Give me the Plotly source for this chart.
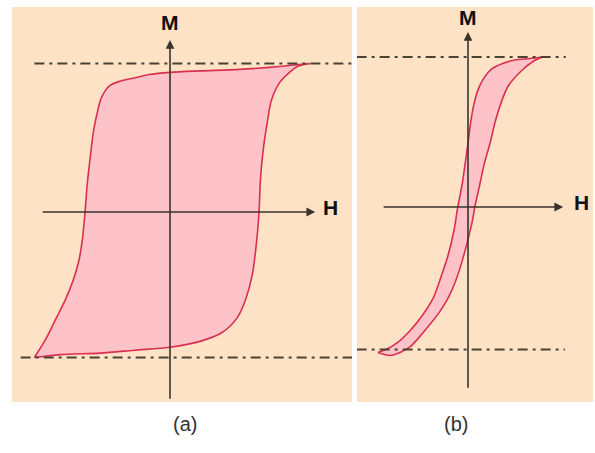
import plotly.graph_objects as go

# Hysteresis loops, M in units of saturation magnetisation, H in units of the loop's own field scale
# (a) hard magnet: wide loop
a_up_H = [-0.99, -0.80, -0.51, -0.26, 0.00, 0.22, 0.38, 0.49, 0.55, 0.60, 0.63, 0.65, 0.66, 0.68, 0.71, 0.74, 0.80, 0.86, 0.93, 1.02]
a_up_M = [-0.99, -0.97, -0.96, -0.94, -0.92, -0.88, -0.82, -0.72, -0.60, -0.43, -0.22, 0.00, 0.22, 0.42, 0.61, 0.76, 0.88, 0.94, 0.99, 1.01]
a_dn_H = [1.02, 0.80, 0.51, 0.22, 0.00, -0.15, -0.27, -0.365, -0.44, -0.50, -0.53, -0.56, -0.58, -0.605, -0.62,
          -0.64, -0.665, -0.705, -0.765, -0.835, -0.91, -0.99]
a_dn_M = [1.01, 0.99, 0.97, 0.96, 0.95, 0.935, 0.91, 0.89, 0.86, 0.78, 0.68, 0.54, 0.39, 0.18, 0.00,
          -0.19, -0.33, -0.46, -0.60, -0.73, -0.87, -0.99]

# (b) soft magnet: narrow loop
b_up_H = [-1.06, -0.92, -0.80, -0.68, -0.565, -0.45, -0.33, -0.235, -0.15, -0.07, 0.00, 0.05, 0.08, 0.13, 0.19,
          0.26, 0.32, 0.39, 0.47, 0.635, 0.765, 0.88]
b_up_M = [-0.99, -1.01, -0.99, -0.95, -0.88, -0.80, -0.71, -0.62, -0.51, -0.37, -0.22, -0.10, 0.00, 0.13, 0.29,
          0.435, 0.58, 0.71, 0.82, 0.93, 0.99, 1.02]
b_dn_H = [0.88, 0.73, 0.55, 0.40, 0.28, 0.19, 0.12, 0.07, 0.035, 0.00, -0.035, -0.07, -0.12, -0.165, -0.235,
          -0.32, -0.41, -0.54, -0.68, -0.835, -0.965, -1.06]
b_dn_M = [1.02, 1.01, 1.00, 0.975, 0.94, 0.88, 0.80, 0.70, 0.59, 0.435, 0.29, 0.15, 0.00, -0.16, -0.33,
          -0.48, -0.62, -0.74, -0.84, -0.925, -0.97, -0.99]

# saturation reference levels and their horizontal extent
a_sat_M = [1.01, -0.99]
a_sat_H = [[-0.99, 1.33], [-1.09, 1.33]]
b_sat_M = [1.02, -0.97]
b_sat_H = [[-1.31, 1.15], [-1.31, 1.14]]

# axis arrows: (H from, H to), (M from, M to), label positions
a_axis_H = [-0.94, 1.06]
a_axis_M = [-1.28, 1.17]
b_axis_H = [-1.01, 1.12]
b_axis_M = [-1.24, 1.19]
a_lbl = {"H": (1.17, 0.03), "M": (0.0, 1.29)}
b_lbl = {"H": (1.34, 0.03), "M": (0.0, 1.29)}
panel_names = ["(a)", "(b)"]

PEACH = "#fde2c6"
FILL = "#fec3c8"
CURVE = "#d9304f"
AXIS = "#3a332c"
DASH = "#4a4232"

fig = go.Figure()


def add_panel(xa, ya, up_H, up_M, dn_H, dn_M, sat_M, sat_H, ax_H, ax_M, lbl):
    # filled area enclosed by the two branches
    fig.add_trace(go.Scatter(
        x=up_H + dn_H[1:], y=up_M + dn_M[1:], xaxis=xa, yaxis=ya,
        mode="lines", line=dict(width=0, shape="spline", smoothing=0.8, color=FILL),
        fill="toself", fillcolor=FILL, hoverinfo="skip", showlegend=False))
    for hh, mm in ((up_H, up_M), (dn_H, dn_M)):
        fig.add_trace(go.Scatter(
            x=hh, y=mm, xaxis=xa, yaxis=ya, mode="lines",
            line=dict(color=CURVE, width=1.6, shape="spline", smoothing=0.8),
            showlegend=False))
    for m, hspan in zip(sat_M, sat_H):
        fig.add_trace(go.Scatter(
            x=hspan, y=[m, m], xaxis=xa, yaxis=ya, mode="lines",
            line=dict(color=DASH, width=2, dash="10px,5px,3px,5px"),
            showlegend=False))
    fig.add_annotation(x=ax_H[1], y=0, ax=ax_H[0], ay=0, xref=xa, yref=ya,
                       axref=xa, ayref=ya, text="", showarrow=True,
                       arrowhead=2, arrowsize=1.1, arrowwidth=1.6, arrowcolor=AXIS)
    fig.add_annotation(x=0, y=ax_M[1], ax=0, ay=ax_M[0], xref=xa, yref=ya,
                       axref=xa, ayref=ya, text="", showarrow=True,
                       arrowhead=2, arrowsize=1.1, arrowwidth=1.6, arrowcolor=AXIS)
    for name, (hx, my) in lbl.items():
        fig.add_annotation(x=hx, y=my, xref=xa, yref=ya, text="<b>%s</b>" % name,
                           showarrow=False,
                           font=dict(family="Liberation Sans, Arial", size=21, color="#111111"))


add_panel("x", "y", a_up_H, a_up_M, a_dn_H, a_dn_M, a_sat_M, a_sat_H, a_axis_H, a_axis_M, a_lbl)
add_panel("x2", "y2", b_up_H, b_up_M, b_dn_H, b_dn_M, b_sat_M, b_sat_H, b_axis_H, b_axis_M, b_lbl)

for name, xc in zip(panel_names, [171, 470]):
    fig.add_annotation(x=xc / 595, y=1 - 437 / 453, xref="paper", yref="paper",
                       text=name, showarrow=False,
                       font=dict(family="Liberation Sans, Arial", size=20, color="#333333"))

hidden = dict(showgrid=False, zeroline=False, showticklabels=False, ticks="",
              showline=False, fixedrange=True)
ydom = [1 - 402 / 453, 1 - 7 / 453]
fig.update_layout(
    width=595, height=453,
    margin=dict(l=0, r=0, t=0, b=0),
    paper_bgcolor="white", plot_bgcolor=PEACH,
    xaxis=dict(domain=[12 / 595, 352 / 595], range=[-1.1533, 1.3285], **hidden),
    yaxis=dict(domain=ydom, range=[-1.2925, 1.3946], anchor="x", **hidden),
    xaxis2=dict(domain=[357 / 595, 593 / 595], range=[-1.3059, 1.4706], anchor="y2", **hidden),
    yaxis2=dict(domain=ydom, range=[-1.3265, 1.3605], anchor="x2", **hidden),
    showlegend=False,
)

fig.write_html("out.html")
